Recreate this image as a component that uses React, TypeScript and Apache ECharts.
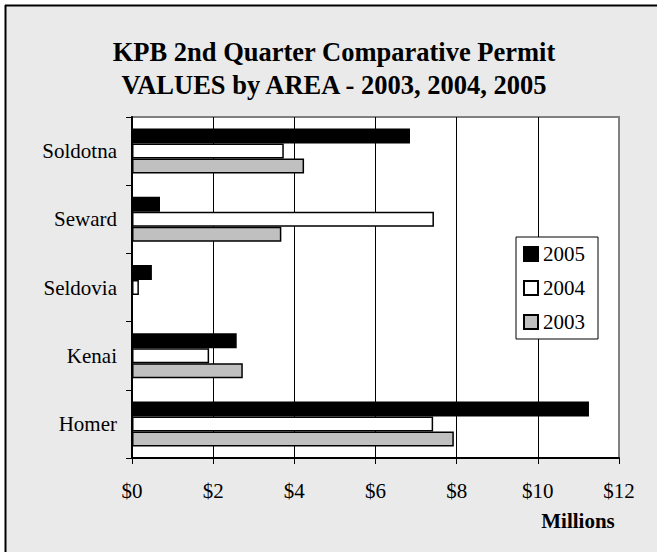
import React, { useEffect, useRef } from "react";
import * as echarts from "echarts";

const areas = ["Homer", "Kenai", "Seldovia", "Seward", "Soldotna"];
const values2003 = [7.93, 2.73, 0, 3.68, 4.24];
const values2004 = [7.42, 1.9, 0.17, 7.44, 3.74];
const values2005 = [11.26, 2.58, 0.49, 0.69, 6.85];
const xTicks = [0, 2, 4, 6, 8, 10, 12];
const legendOrder = ["2005", "2004", "2003"];

const FONT = "Liberation Serif, Times New Roman, serif";

export default function App() {
  const ref = useRef<HTMLDivElement>(null);
  useEffect(() => {
    if (!ref.current) return;
    const chart = echarts.init(ref.current, undefined, { renderer: "svg" });
    const barStyle = (color: string) => ({
      color,
      borderColor: "#000",
      borderWidth: 1.5,
    });
    chart.setOption({
      animation: false,
      backgroundColor: "#ffffff",
      textStyle: { fontFamily: FONT },
      graphic: [
        {
          type: "rect",
          z: -100,
          shape: { x: 5, y: 5, width: 700, height: 600 },
          style: { fill: "#EAEAEA" },
        },
        {
          type: "line",
          z: -99,
          shape: { x1: 5.5, y1: 5, x2: 5.5, y2: 560 },
          style: { stroke: "#000", lineWidth: 2 },
        },
        {
          type: "line",
          z: -99,
          shape: { x1: 5, y1: 5.5, x2: 670, y2: 5.5 },
          style: { stroke: "#000", lineWidth: 2 },
        },
        {
          type: "text",
          x: 578,
          y: 521,
          style: {
            text: "Millions",
            fontFamily: FONT,
            fontSize: 21,
            fontWeight: "bold",
            fill: "#000",
            align: "center",
            verticalAlign: "middle",
          },
        },
      ],
      title: {
        text: "KPB 2nd Quarter Comparative Permit\nVALUES by AREA - 2003, 2004, 2005",
        left: 329,
        top: 30,
        textAlign: "center",
        textStyle: {
          fontFamily: FONT,
          fontSize: 26.5,
          fontWeight: "bold",
          color: "#000",
          lineHeight: 33,
        },
      },
      legend: {
        data: legendOrder,
        orient: "vertical",
        left: 516,
        top: 237,
        padding: [6.5, 13, 6.5, 7],
        itemGap: 13,
        itemWidth: 14,
        itemHeight: 14,
        icon: "rect",
        backgroundColor: "#fff",
        borderColor: "#000",
        borderWidth: 1,
        textStyle: { fontFamily: FONT, fontSize: 21, color: "#000", lineHeight: 21 },
        z: 10,
      },
      grid: {
        left: 132,
        right: 38,
        top: 117,
        bottom: 94,
        show: true,
        backgroundColor: "#fff",
        borderColor: "#808080",
        borderWidth: 2,
      },
      xAxis: {
        type: "value",
        min: xTicks[0],
        max: xTicks[xTicks.length - 1],
        interval: 2,
        axisLine: { show: true, lineStyle: { color: "#000", width: 2 } },
        axisTick: { show: true, length: 6, lineStyle: { color: "#000", width: 1 } },
        axisLabel: {
          formatter: (v: number) => "$" + v,
          fontFamily: FONT,
          fontSize: 21,
          color: "#000",
          margin: 22,
        },
        splitLine: {
          show: true,
          lineStyle: {
            color: ["#000", "#000", "#000", "#000", "#000", "#000", "#808080"],
            width: 1,
          },
        },
      },
      yAxis: {
        type: "category",
        data: areas,
        axisLine: { show: true, lineStyle: { color: "#000", width: 2 } },
        axisTick: { show: true, length: 6, lineStyle: { color: "#000", width: 1 } },
        axisLabel: {
          fontFamily: FONT,
          fontSize: 21,
          color: "#000",
          margin: 15,
        },
        splitLine: { show: false },
      },
      series: [
        {
          name: "2005",
          type: "bar",
          data: values2005,
          barWidth: 15,
          barGap: "0%",
          itemStyle: barStyle("#000000"),
        },
        {
          name: "2004",
          type: "bar",
          data: values2004,
          barWidth: 15,
          barGap: "0%",
          itemStyle: barStyle("#ffffff"),
        },
        {
          name: "2003",
          type: "bar",
          data: values2003,
          barWidth: 15,
          barGap: "0%",
          itemStyle: barStyle("#C0C0C0"),
        },
      ],
    });
    return () => chart.dispose();
  }, []);
  return (
    <div
      ref={ref}
      style={{ position: "fixed", left: 0, top: 0, width: 657, height: 552 }}
    />
  );
}
